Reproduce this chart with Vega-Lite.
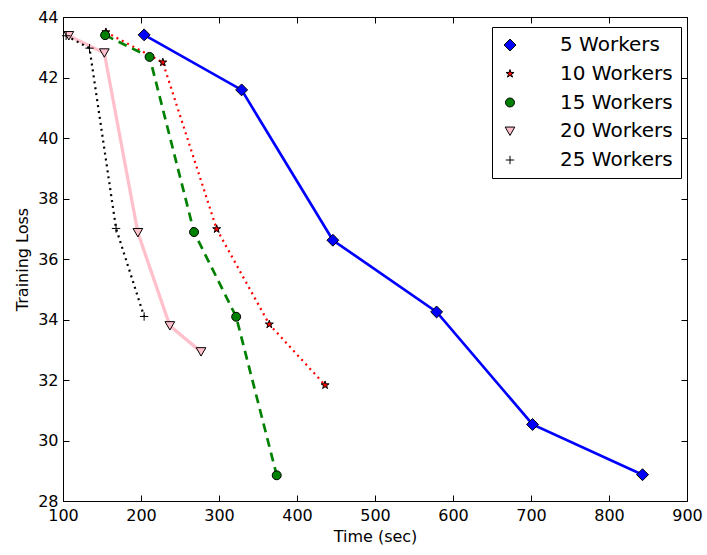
{
  "$schema": "https://vega.github.io/schema/vega-lite/v6.json",
  "width": 624,
  "height": 484,
  "autosize": "none",
  "padding": {"left": 63, "top": 17, "right": 20, "bottom": 54},
  "background": "white",
  "config": {
    "font": "DejaVu Sans",
    "view": {"stroke": "black", "strokeWidth": 1},
    "axis": {
      "grid": false,
      "domain": false,
      "labelFont": "DejaVu Sans",
      "labelFontSize": 16,
      "labelColor": "black",
      "titleFont": "DejaVu Sans",
      "titleFontSize": 16,
      "titleFontWeight": "normal",
      "titleColor": "black",
      "tickColor": "black",
      "tickSize": -6,
      "tickWidth": 1,
      "labelFlush": false,
      "labelOverlap": false
    },
    "line": {"strokeCap": "butt"}
  },
  "data": {
    "values": [
      {"series": "5 Workers", "time": 204, "loss": 43.41},
      {"series": "5 Workers", "time": 329, "loss": 41.59},
      {"series": "5 Workers", "time": 446, "loss": 36.62},
      {"series": "5 Workers", "time": 579, "loss": 34.25},
      {"series": "5 Workers", "time": 702, "loss": 30.53},
      {"series": "5 Workers", "time": 843, "loss": 28.87},
      {"series": "10 Workers", "time": 155, "loss": 43.5},
      {"series": "10 Workers", "time": 228, "loss": 42.5},
      {"series": "10 Workers", "time": 297, "loss": 36.99},
      {"series": "10 Workers", "time": 364.5, "loss": 33.84},
      {"series": "10 Workers", "time": 436, "loss": 31.83},
      {"series": "15 Workers", "time": 154, "loss": 43.4},
      {"series": "15 Workers", "time": 211, "loss": 42.68},
      {"series": "15 Workers", "time": 268, "loss": 36.89},
      {"series": "15 Workers", "time": 322, "loss": 34.09},
      {"series": "15 Workers", "time": 374, "loss": 28.85},
      {"series": "20 Workers", "time": 107.5, "loss": 43.38},
      {"series": "20 Workers", "time": 153, "loss": 42.81},
      {"series": "20 Workers", "time": 196, "loss": 36.87},
      {"series": "20 Workers", "time": 237, "loss": 33.79},
      {"series": "20 Workers", "time": 277, "loss": 32.93},
      {"series": "25 Workers", "time": 104, "loss": 43.38},
      {"series": "25 Workers", "time": 134, "loss": 42.97},
      {"series": "25 Workers", "time": 168, "loss": 37.01},
      {"series": "25 Workers", "time": 204, "loss": 34.1}
    ]
  },
  "resolve": {"axis": {"x": "independent", "y": "independent"}},
  "layer": [
    {
      "transform": [{"filter": "datum.series === '5 Workers'"}],
      "mark": {"type": "line", "color": "#0000ff", "strokeWidth": 2.7},
      "encoding": {
        "x": {
          "field": "time", "type": "quantitative",
          "scale": {"domain": [100, 900], "nice": false, "zero": false},
          "axis": {"orient": "bottom", "values": [100, 200, 300, 400, 500, 600, 700, 800, 900], "title": "Time (sec)", "labelPadding": 12, "titlePadding": 5}
        },
        "y": {
          "field": "loss", "type": "quantitative",
          "scale": {"domain": [28, 44], "nice": false, "zero": false},
          "axis": {"orient": "left", "values": [28, 30, 32, 34, 36, 38, 40, 42, 44], "title": "Training Loss", "labelPadding": 11, "titlePadding": 7}
        }
      }
    },
    {
      "transform": [{"filter": "datum.series === '10 Workers'"}],
      "mark": {"type": "line", "color": "#ff0000", "strokeWidth": 2.2, "strokeDash": [2, 4]},
      "encoding": {
        "x": {"field": "time", "type": "quantitative", "axis": null},
        "y": {"field": "loss", "type": "quantitative", "axis": null}
      }
    },
    {
      "transform": [{"filter": "datum.series === '15 Workers'"}],
      "mark": {"type": "line", "color": "#008000", "strokeWidth": 2.7, "strokeDash": [9, 6]},
      "encoding": {
        "x": {"field": "time", "type": "quantitative", "axis": null},
        "y": {"field": "loss", "type": "quantitative", "axis": null}
      }
    },
    {
      "transform": [{"filter": "datum.series === '20 Workers'"}],
      "mark": {"type": "line", "color": "#ffc0cb", "strokeWidth": 3.3},
      "encoding": {
        "x": {"field": "time", "type": "quantitative", "axis": null},
        "y": {"field": "loss", "type": "quantitative", "axis": null}
      }
    },
    {
      "transform": [{"filter": "datum.series === '25 Workers'"}],
      "mark": {"type": "line", "color": "#000000", "strokeWidth": 2.2, "strokeDash": [2, 4]},
      "encoding": {
        "x": {"field": "time", "type": "quantitative", "axis": null},
        "y": {"field": "loss", "type": "quantitative", "axis": null}
      }
    },
    {
      "mark": {"type": "point", "filled": true, "stroke": "black", "strokeWidth": 1, "size": 196, "opacity": 1},
      "encoding": {
        "x": {
          "field": "time", "type": "quantitative",
          "axis": {"orient": "top", "values": [100, 200, 300, 400, 500, 600, 700, 800, 900], "labels": false, "title": null}
        },
        "y": {
          "field": "loss", "type": "quantitative",
          "axis": {"orient": "right", "values": [28, 30, 32, 34, 36, 38, 40, 42, 44], "labels": false, "title": null}
        },
        "color": {
          "field": "series", "type": "nominal",
          "scale": {"domain": ["5 Workers", "10 Workers", "15 Workers", "20 Workers", "25 Workers"], "range": ["#0000ff", "#ff0000", "#008000", "#ffc0cb", "#000000"]},
          "legend": {
            "orient": "none", "legendX": 429, "legendY": 10, "title": null,
            "direction": "vertical", "columns": 1, "gridAlign": "all",
            "labelFont": "DejaVu Sans", "labelFontSize": 20, "labelColor": "black", "labelAlign": "left",
            "padding": 8, "rowPadding": 8.75, "labelOffset": 40,
            "symbolSize": 196, "symbolStrokeColor": "black", "symbolStrokeWidth": 1,
            "strokeColor": "black", "fillColor": "white", "cornerRadius": 0
          }
        },
        "shape": {
          "field": "series", "type": "nominal",
          "scale": {
            "domain": ["5 Workers", "10 Workers", "15 Workers", "20 Workers", "25 Workers"],
            "range": [
              "M0,-0.85L0.85,0L0,0.85L-0.85,0Z",
              "M0,-0.6L0.135,-0.186L0.571,-0.185L0.219,0.071L0.353,0.485L0,0.23L-0.353,0.485L-0.219,0.071L-0.571,-0.185L-0.135,-0.186ZM-0.85,-0.85M0.85,0.85",
              "M-0.64,0A0.64,0.64,0,1,0,0.64,0A0.64,0.64,0,1,0,-0.64,0ZM-0.85,-0.85M0.85,0.85",
              "M-0.69,-0.6L0.69,-0.6L0,0.6ZM-0.85,-0.85M0.85,0.85",
              "M-0.6,0L0.6,0M0,-0.6L0,0.6M-0.85,-0.85M0.85,0.85"
            ]
          },
          "legend": {
            "orient": "none", "legendX": 429, "legendY": 10, "title": null,
            "direction": "vertical", "columns": 1, "gridAlign": "all",
            "labelFont": "DejaVu Sans", "labelFontSize": 20, "labelColor": "black", "labelAlign": "left",
            "padding": 8, "rowPadding": 8.75, "labelOffset": 40,
            "symbolSize": 196, "symbolStrokeColor": "black", "symbolStrokeWidth": 1,
            "strokeColor": "black", "fillColor": "white", "cornerRadius": 0
          }
        }
      }
    }
  ]
}
